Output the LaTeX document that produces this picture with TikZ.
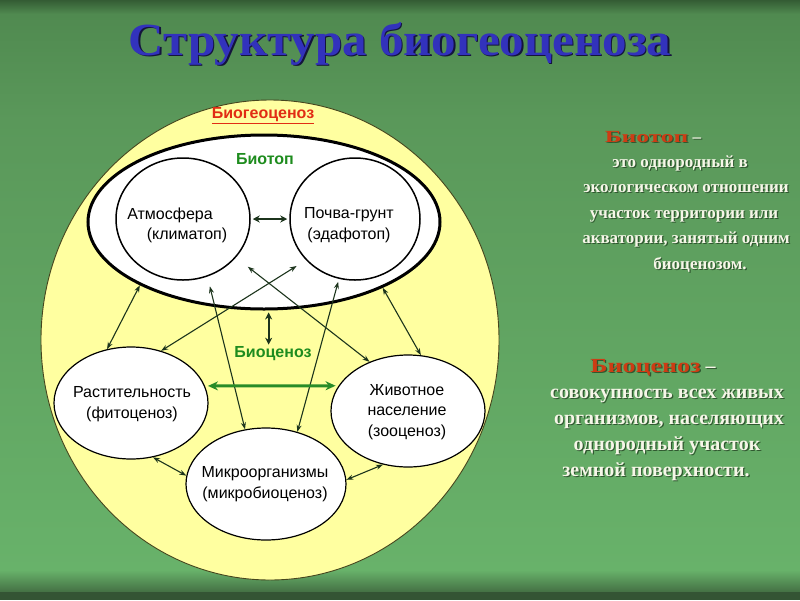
\documentclass[tikz,border=0pt]{standalone}
\usepackage{fontspec}
\usepackage{graphicx}
\setmainfont{Liberation Serif}
\newfontfamily\arialf{Liberation Sans}
\usetikzlibrary{arrows.meta,shapes.geometric}
\definecolor{bgA}{RGB}{52,92,52}
\definecolor{bgB}{RGB}{80,138,80}
\definecolor{bgmid}{RGB}{90,152,90}
\definecolor{bgC}{RGB}{104,178,106}
\definecolor{bgD}{RGB}{68,112,68}
\definecolor{bgE}{RGB}{52,84,52}
\definecolor{yel}{RGB}{255,255,160}
\definecolor{yelline}{RGB}{70,70,30}
\definecolor{titleblue}{RGB}{50,50,188}
\definecolor{titleshade}{RGB}{20,20,60}
\definecolor{lblgreen}{RGB}{30,140,30}
\definecolor{lblred}{RGB}{225,45,20}
\definecolor{arrowc}{RGB}{28,52,28}
\definecolor{garrow}{RGB}{40,140,40}
\definecolor{cream}{RGB}{246,246,232}
\definecolor{txtshade}{RGB}{48,88,48}
\definecolor{headred}{RGB}{205,60,20}
\newcommand{\wideword}[2]{\scalebox{#1}[1]{#2}}
% text with a drop shadow, set as one box
\newcommand{\shadowed}[4]{\makebox[0pt][l]{\hspace*{#2}\raisebox{-#2}{\textcolor{#1}{#3}}}#4}
\begin{document}
\begin{tikzpicture}[x=1pt,y=-1pt,
  titletext/.style={anchor=base,inner sep=0pt,font=\fontsize{46}{50}\selectfont\bfseries,text=titleblue,transform shape,xscale=1.065},
  oval/.style={ellipse,draw=black,fill=white,inner sep=0pt},
  sanslbl/.style={font=\arialf\fontsize{16}{20.5}\selectfont,align=center,inner sep=1pt},
  boldlbl/.style={font=\arialf\bfseries\fontsize{16}{19}\selectfont,inner sep=2pt},
  rtext/.style={anchor=base,inner sep=0pt,font=\fontsize{17}{20}\selectfont\bfseries,text=cream},
  rtextb/.style={rtext,font=\fontsize{20}{22}\selectfont\bfseries},
  link/.style={draw=arrowc,line width=1.1pt,arrows={Stealth[length=7pt,width=5pt]-Stealth[length=7pt,width=5pt]}},
  boldlink/.style={draw=arrowc,line width=2pt,arrows={Stealth[length=7pt,width=7pt]-Stealth[length=7pt,width=7pt]}},
  greenlink/.style={draw=garrow,line width=3pt,arrows={Stealth[length=10pt,width=9pt]-Stealth[length=10pt,width=9pt]}}
]
\useasboundingbox (0,0) rectangle (800,600);
% background
\fill[bgmid] (0,0) rectangle (800,600);
\shade[top color=bgA, bottom color=bgB] (0,0) rectangle (800,14);
\shade[top color=bgB, bottom color=bgmid] (0,14) rectangle (800,120);
\shade[top color=bgmid, bottom color=bgC] (0,120) rectangle (800,570);
\shade[top color=bgC, bottom color=bgD] (0,570) rectangle (800,592);
\fill[bgE] (0,592) rectangle (800,600);

% title
\node[titletext] (title) at (400,55) {\shadowed{titleshade}{1.3pt}{Структура биогеоценоза}{Структура биогеоценоза}};

% outer biogeocenosis
\node[ellipse,draw=yelline,line width=0.9pt,fill=yel,minimum width=458pt,minimum height=480pt,inner sep=0pt] (bgc) at (270,340) {};
\node[boldlbl,text=lblred] (bgclbl) at (263,116) {\underline{Биогеоценоз}};

% biotope
\node[oval,line width=3pt,minimum width=352pt,minimum height=174pt] (biotope) at (264,222) {};
\node[boldlbl,text=lblgreen] (biotopelbl) at (265,159) {Биотоп};
\node[oval,line width=1.5pt,minimum width=134pt,minimum height=122pt] (atm) at (183,219) {};
\node[oval,line width=1.5pt,minimum width=130pt,minimum height=122pt] (soil) at (355,219) {};
\node[sanslbl] (atmt1) at (170,215) {Атмосфера};
\node[sanslbl] (atmt2) at (187,235) {(климатоп)};
\node[sanslbl] (soilt) at (349,225) {Почва-грунт\\(эдафотоп)};

% biocenosis
\node[oval,line width=1.2pt,minimum width=154pt,minimum height=112pt] (plant) at (131,403) {};
\node[oval,line width=1.2pt,minimum width=154pt,minimum height=112pt] (animal) at (408,411) {};
\node[oval,line width=1.2pt,minimum width=160pt,minimum height=112pt] (micro) at (266,484) {};
\node[sanslbl] (plantt) at (132,404) {Растительность\\(фитоценоз)};
\node[sanslbl] (animalt) at (407,412) {Животное\\население\\(зооценоз)};
\node[sanslbl] (microt) at (265,484) {Микроорганизмы\\(микробиоценоз)};
\node[boldlbl,text=lblgreen] (bcl) at (273,354) {Биоценоз};

% connectors
\draw[boldlink,shorten <=2pt,shorten >=2pt] (atm.east) -- (soil.west);
\draw[link] (biotope.207) -- (plant.114);
\draw[link] (biotope.331) -- (animal.77);
\draw[link,shorten <=11pt] (soil.220) -- (plant.60);
\draw[link,shorten <=15pt] (atm.324) -- (animal.128);
\draw[link,shorten <=10pt] (atm.293) -- (micro.111);
\draw[link,shorten <=3pt] (soil.255) -- (micro.59);
\draw[boldlink,shorten <=2pt] (biotope.273) -- (biotope.273 |- bcl.north);
\draw[link] (plant.292) -- (micro.174);
\draw[link] (micro.3) -- (animal.245);
\draw[greenlink,shorten <=3pt,shorten >=3pt] (plant.13) -- (animal.160);

% right text: biotope
\node[rtext] (h1) at (653,142) {\shadowed{txtshade}{1.2pt}{\wideword{1.5}{Биотоп} –}{\textcolor{headred}{\wideword{1.5}{Биотоп}} –}};
\node[rtext] (b1) at (680,167) {\shadowed{txtshade}{1.2pt}{это однородный в}{это однородный в}};
\node[rtext] (b2) at (686,192) {\shadowed{txtshade}{1.2pt}{экологическом отношении}{экологическом отношении}};
\node[rtext] (b3) at (684,218) {\shadowed{txtshade}{1.2pt}{участок территории или}{участок территории или}};
\node[rtext] (b4) at (686,243) {\shadowed{txtshade}{1.2pt}{акватории, занятый одним}{акватории, занятый одним}};
\node[rtext] (b5) at (700,269) {\shadowed{txtshade}{1.2pt}{биоценозом.}{биоценозом.}};

% right text: biocenosis
\node[rtextb] (h2) at (653,372) {\shadowed{txtshade}{1.2pt}{\wideword{1.3}{Биоценоз} –}{\textcolor{headred}{\wideword{1.3}{Биоценоз}} –}};
\node[rtextb] (c1) at (667,398) {\shadowed{txtshade}{1.2pt}{совокупность всех живых}{совокупность всех живых}};
\node[rtextb] (c2) at (669,424) {\shadowed{txtshade}{1.2pt}{организмов, населяющих}{организмов, населяющих}};
\node[rtextb] (c3) at (667,450) {\shadowed{txtshade}{1.2pt}{однородный участок}{однородный участок}};
\node[rtextb] (c4) at (656,476) {\shadowed{txtshade}{1.2pt}{земной поверхности.}{земной поверхности.}};
\end{tikzpicture}
\end{document}
